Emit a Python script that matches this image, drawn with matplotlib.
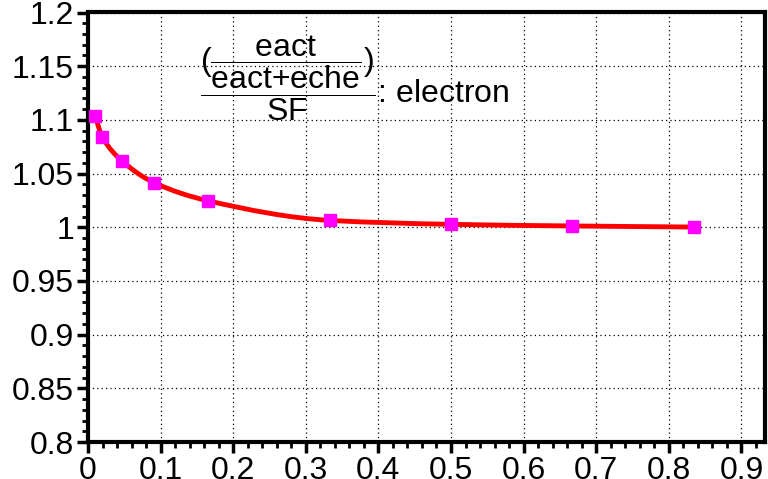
import numpy as np
import matplotlib
matplotlib.use('Agg')
import matplotlib.pyplot as plt
from matplotlib.path import Path
from matplotlib.patches import PathPatch
from matplotlib.ticker import MultipleLocator, AutoMinorLocator, FormatStrFormatter

plt.rcParams['font.family'] = ['Liberation Sans', 'DejaVu Sans']
plt.rcParams['mathtext.fontset'] = 'custom'
plt.rcParams['mathtext.rm'] = 'Liberation Sans'
plt.rcParams['mathtext.it'] = 'Liberation Sans:italic'
plt.rcParams['mathtext.bf'] = 'Liberation Sans:bold'

# values
x_frac = [0.0098, 0.0195, 0.047, 0.091, 0.165, 0.333, 0.5, 0.667, 0.835]
ratio = [1.1035, 1.0844, 1.0617, 1.0415, 1.0247, 1.0064, 1.0027, 1.0012, 1.0002]
label = r'$\dfrac{(\dfrac{\mathrm{eact}}{\mathrm{eact{+}eche}})}{\mathrm{SF}}$: electron'


def smooth_path(x, y):
    # monotone cubic (Fritsch-Carlson) segments as Bezier curves
    x = np.asarray(x, float); y = np.asarray(y, float)
    h = np.diff(x); d = np.diff(y) / h
    m = np.zeros_like(x)
    m[0], m[-1] = d[0], d[-1]
    for i in range(1, len(x) - 1):
        if d[i - 1] * d[i] > 0:
            w1 = 2 * h[i] + h[i - 1]; w2 = h[i] + 2 * h[i - 1]
            m[i] = (w1 + w2) / (w1 / d[i - 1] + w2 / d[i])
    verts = [(x[0], y[0])]; codes = [Path.MOVETO]
    for i in range(len(x) - 1):
        verts += [(x[i] + h[i] / 3, y[i] + m[i] * h[i] / 3),
                  (x[i + 1] - h[i] / 3, y[i + 1] - m[i + 1] * h[i] / 3),
                  (x[i + 1], y[i + 1])]
        codes += [Path.CURVE4] * 3
    return Path(verts, codes)


fig = plt.figure(figsize=(7.68, 4.79), dpi=100)
ax = fig.add_axes([88 / 768, 1 - 442 / 479, (765 - 88) / 768, (442 - 12.5) / 479])

ax.add_patch(PathPatch(smooth_path(x_frac, ratio), fill=False, edgecolor='#ff0000',
                       lw=3.5, capstyle='round', zorder=3))
ax.plot(x_frac, ratio, ls='none', marker='s', ms=8, color='#ff00ff', mec='#ff00ff', zorder=4)

ax.set_xlim(0, 0.9325)
ax.set_ylim(0.8, 1.2)
ax.xaxis.set_major_locator(MultipleLocator(0.1))
ax.yaxis.set_major_locator(MultipleLocator(0.05))
ax.xaxis.set_minor_locator(AutoMinorLocator(5))
ax.yaxis.set_minor_locator(AutoMinorLocator(5))
ax.xaxis.set_major_formatter(FormatStrFormatter('%g'))
ax.yaxis.set_major_formatter(FormatStrFormatter('%g'))
ax.tick_params(which='both', direction='out', top=False, right=False, labelsize=23)
ax.tick_params(which='major', length=8, width=2.5, pad=2)
ax.tick_params(which='minor', length=4, width=2)
ax.grid(True, which='major', color='black', ls=(0, (1, 2.5)), lw=0.9)
for sp in ax.spines.values():
    sp.set_linewidth(3)

ax.text((200 - 88) / 677, 0.79, label, transform=ax.transAxes, fontsize=23,
        ha='left', va='baseline')

fig.savefig('out.png', dpi=100)
